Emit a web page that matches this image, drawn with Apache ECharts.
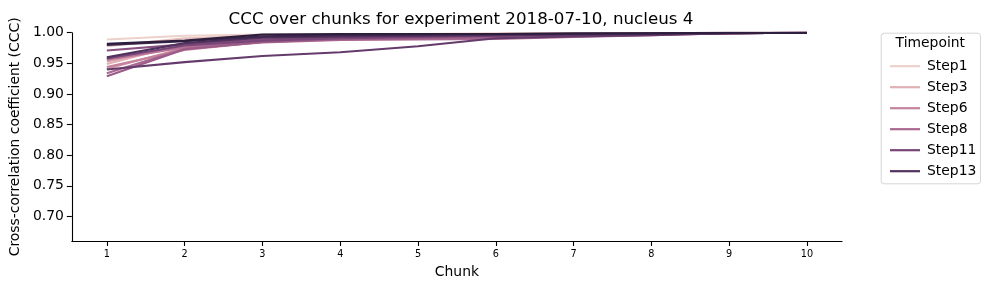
<!DOCTYPE html>
<html>
<head>
<meta charset="utf-8">
<script src="https://cdn.jsdelivr.net/npm/echarts@6/dist/echarts.min.js"></script>
<style>
html,body{margin:0;padding:0;background:#fff;}
#chart{width:989px;height:290px;}
</style>
</head>
<body>
<div id="chart"></div>
<script>
// ---- data ----
const chunks = [1, 2, 3, 4, 5, 6, 7, 8, 9, 10];
const seriesNames = ['Step1','Step2','Step3','Step4','Step5','Step6','Step7','Step8','Step9','Step10','Step11','Step12','Step13','Step14','Step15'];
const step1  = [0.989, 0.995, 0.997, 0.998, 0.998, 0.999, 0.999, 0.999, 1.000, 1.000];
const step2  = [0.978, 0.991, 0.995, 0.997, 0.997, 0.998, 0.999, 0.999, 1.000, 1.000];
const step3  = [0.949, 0.982, 0.992, 0.995, 0.996, 0.997, 0.998, 0.999, 1.000, 1.000];
const step4  = [0.953, 0.978, 0.990, 0.994, 0.995, 0.997, 0.998, 0.999, 1.000, 1.000];
const step5  = [0.941, 0.975, 0.988, 0.992, 0.994, 0.996, 0.997, 0.998, 0.999, 1.000];
const step6  = [0.944, 0.972, 0.985, 0.989, 0.991, 0.993, 0.995, 0.997, 0.999, 1.000];
const step7  = [0.956, 0.976, 0.986, 0.990, 0.992, 0.994, 0.996, 0.998, 0.999, 1.000];
const step8  = [0.934, 0.974, 0.984, 0.988, 0.989, 0.990, 0.993, 0.996, 0.999, 1.000];
const step9  = [0.929, 0.973, 0.985, 0.990, 0.991, 0.993, 0.995, 0.997, 0.999, 1.000];
const step10 = [0.971, 0.981, 0.989, 0.992, 0.994, 0.996, 0.997, 0.998, 0.999, 1.000];
const step11 = [0.958, 0.979, 0.987, 0.991, 0.993, 0.995, 0.997, 0.998, 0.999, 1.000];
const step12 = [0.940, 0.952, 0.962, 0.968, 0.978, 0.991, 0.994, 0.996, 0.999, 1.000];
const step13 = [0.960, 0.983, 0.992, 0.994, 0.995, 0.996, 0.997, 0.998, 0.999, 1.000];
const step14 = [0.980, 0.986, 0.994, 0.996, 0.997, 0.998, 0.998, 0.999, 1.000, 1.000];
const step15 = [0.982, 0.987, 0.997, 0.998, 0.998, 0.998, 0.999, 0.999, 1.000, 1.000];
const allValues = [step1, step2, step3, step4, step5, step6, step7, step8, step9, step10, step11, step12, step13, step14, step15];
const legendNames = ['Step1', 'Step3', 'Step6', 'Step8', 'Step11', 'Step13'];
const yTickLabels = [0.70, 0.75, 0.80, 0.85, 0.90, 0.95, 1.00];
const xTickLabels = [1, 2, 3, 4, 5, 6, 7, 8, 9, 10];

// ---- palette (seaborn cubehelix, light -> dark) ----
function cubehelix(x) {
  const start = 0, rot = 0.4, hue = 0.8, gamma = 1;
  const xg = Math.pow(x, gamma);
  const a = hue * xg * (1 - xg) / 2;
  const phi = 2 * Math.PI * (start / 3 + rot * x);
  const c = Math.cos(phi), s = Math.sin(phi);
  const r = xg + a * (-0.14861 * c + 1.78277 * s);
  const g = xg + a * (-0.29227 * c - 0.90649 * s);
  const b = xg + a * (1.97294 * c);
  const h = v => Math.round(Math.max(0, Math.min(1, v)) * 255).toString(16).padStart(2, '0');
  return '#' + h(r) + h(g) + h(b);
}
const colors = seriesNames.map((n, i) => cubehelix(0.85 - i * 0.05));

const FONT = 'DejaVu Sans';
const chart = echarts.init(document.getElementById('chart'), null, {renderer: 'canvas'});
chart.setOption({
  animation: false,
  backgroundColor: '#ffffff',
  color: colors,
  title: {
    text: 'CCC over chunks for experiment 2018-07-10, nucleus 4',
    left: 456, textAlign: 'center', top: 6,
    textStyle: {fontFamily: FONT, fontSize: 16.7, fontWeight: 'normal', color: '#000'}
  },
  grid: {left: 70, right: 147, top: 32.7, bottom: 49, containLabel: false},
  xAxis: {
    type: 'value', min: 0.55, max: 10.45,
    name: 'Chunk', nameLocation: 'middle', nameGap: 24,
    nameTextStyle: {fontFamily: FONT, fontSize: 13.9, color: '#000'},
    axisLine: {lineStyle: {color: '#000', width: 1.1}},
    axisTick: {show: true, length: 5, lineStyle: {color: '#000', width: 1.1}, customValues: xTickLabels},
    axisLabel: {fontFamily: FONT, fontSize: 9.7, color: '#000', margin: 8, customValues: xTickLabels},
    splitLine: {show: false}
  },
  yAxis: {
    type: 'value', min: 0.66, max: 1.0,
    name: 'Cross-correlation coefficient (CCC)', nameLocation: 'middle', nameGap: 44,
    nameTextStyle: {fontFamily: FONT, fontSize: 13.9, color: '#000'},
    axisLine: {show: true, lineStyle: {color: '#000', width: 1.1}},
    axisTick: {show: true, length: 5, lineStyle: {color: '#000', width: 1.1}, customValues: yTickLabels},
    axisLabel: {fontFamily: FONT, fontSize: 13.9, color: '#000', margin: 8, customValues: yTickLabels,
      formatter: v => v.toFixed(2)},
    splitLine: {show: false}
  },
  legend: {
    data: legendNames,
    orient: 'vertical',
    left: 885, top: 53.2,
    icon: 'rect', itemWidth: 30, itemHeight: 2.2, itemGap: 5,
    textStyle: {fontFamily: FONT, fontSize: 13.9, color: '#000', lineHeight: 16, padding: [0, 0, 0, 2]}
  },
  graphic: [
    {type: 'rect', left: 880.7, top: 32.7, z: -1,
     shape: {width: 99.3, height: 150.6, r: 3},
     style: {fill: 'rgba(255,255,255,0.8)', stroke: '#d6d6d6', lineWidth: 1}},
    {type: 'text', x: 930.3, y: 36.5, z: 10,
     style: {text: 'Timepoint', fontFamily: FONT, fontSize: 13.9, fill: '#000', textAlign: 'center', textVerticalAlign: 'top'}}
  ],
  series: seriesNames.map((n, i) => ({
    name: n, type: 'line',
    data: chunks.map((c, j) => [c, allValues[i][j]]),
    showSymbol: false, symbol: 'none',
    lineStyle: {width: 2.1, color: colors[i]},
    itemStyle: {color: colors[i]},
    emphasis: {disabled: true}
  }))
});
</script>
</body>
</html>
